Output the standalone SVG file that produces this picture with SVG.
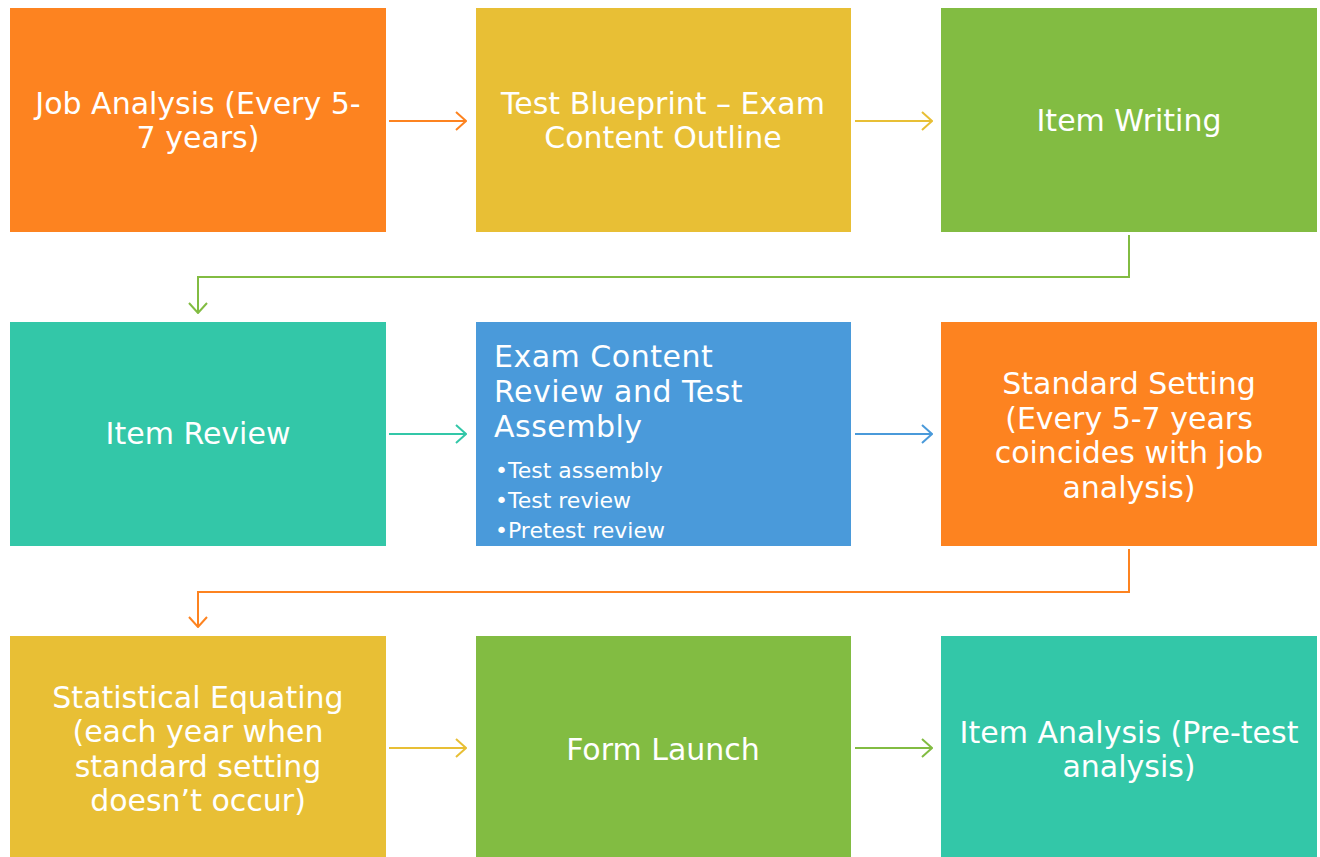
<svg xmlns="http://www.w3.org/2000/svg" width="1320" height="857" viewBox="0 0 1320 857">
<defs>
<style>
.t{font-family:"DejaVu Sans","Liberation Sans",sans-serif;font-size:30px;fill:#fff;text-anchor:middle}
.l{font-family:"DejaVu Sans","Liberation Sans",sans-serif;font-size:30px;letter-spacing:0.5px;fill:#fff}
.b{font-family:"DejaVu Sans","Liberation Sans",sans-serif;font-size:22px;fill:#fff}
.c{fill:none;stroke-width:2}
</style>
<marker id="mo" viewBox="0 0 12 20" refX="11" refY="10" markerWidth="12" markerHeight="20" markerUnits="userSpaceOnUse" orient="auto"><path d="M1 1 L11 10 L1 19" fill="none" stroke="#FD8320" stroke-width="2"/></marker>
<marker id="my" viewBox="0 0 12 20" refX="11" refY="10" markerWidth="12" markerHeight="20" markerUnits="userSpaceOnUse" orient="auto"><path d="M1 1 L11 10 L1 19" fill="none" stroke="#E8BF35" stroke-width="2"/></marker>
<marker id="mg" viewBox="0 0 12 20" refX="11" refY="10" markerWidth="12" markerHeight="20" markerUnits="userSpaceOnUse" orient="auto"><path d="M1 1 L11 10 L1 19" fill="none" stroke="#82BC42" stroke-width="2"/></marker>
<marker id="mt" viewBox="0 0 12 20" refX="11" refY="10" markerWidth="12" markerHeight="20" markerUnits="userSpaceOnUse" orient="auto"><path d="M1 1 L11 10 L1 19" fill="none" stroke="#33C7A8" stroke-width="2"/></marker>
<marker id="mb" viewBox="0 0 12 20" refX="11" refY="10" markerWidth="12" markerHeight="20" markerUnits="userSpaceOnUse" orient="auto"><path d="M1 1 L11 10 L1 19" fill="none" stroke="#4A9ADA" stroke-width="2"/></marker>
</defs>
<rect width="1320" height="857" fill="#fff"/>
<g id="n1"><rect x="10" y="8" width="376" height="224" fill="#FD8320"/><text class="t" x="198" y="114">Job Analysis (Every 5-</text><text class="t" x="198" y="148">7 years)</text></g>
<g id="n2"><rect x="476" y="8" width="375" height="224" fill="#E8BF35"/><text class="t" x="663" y="114">Test Blueprint – Exam</text><text class="t" x="663" y="148">Content Outline</text></g>
<g id="n3"><rect x="941" y="8" width="376" height="224" fill="#82BC42"/><text class="t" x="1129" y="131">Item Writing</text></g>
<g id="n4"><rect x="10" y="322" width="376" height="224" fill="#33C7A8"/><text class="t" x="198" y="444">Item Review</text></g>
<g id="n5"><rect x="476" y="322" width="375" height="224" fill="#4A9ADA"/><text class="l" x="494" y="367">Exam Content</text><text class="l" x="494" y="402">Review and Test</text><text class="l" x="494" y="437">Assembly</text><text class="b" x="495" y="478">•Test assembly</text><text class="b" x="495" y="508">•Test review</text><text class="b" x="495" y="538">•Pretest review</text></g>
<g id="n6"><rect x="941" y="322" width="376" height="224" fill="#FD8320"/><text class="t" x="1129" y="394">Standard Setting</text><text class="t" x="1129" y="429">(Every 5-7 years</text><text class="t" x="1129" y="463">coincides with job</text><text class="t" x="1129" y="498">analysis)</text></g>
<g id="n7"><rect x="10" y="636" width="376" height="221" fill="#E8BF35"/><text class="t" x="198" y="708">Statistical Equating</text><text class="t" x="198" y="742">(each year when</text><text class="t" x="198" y="777">standard setting</text><text class="t" x="198" y="811">doesn’t occur)</text></g>
<g id="n8"><rect x="476" y="636" width="375" height="221" fill="#82BC42"/><text class="t" x="663" y="760">Form Launch</text></g>
<g id="n9"><rect x="941" y="636" width="376" height="221" fill="#33C7A8"/><text class="t" x="1129" y="743">Item Analysis (Pre-test</text><text class="t" x="1129" y="777">analysis)</text></g>
<g id="connectors">
<path class="c" d="M389 121 H466" stroke="#FD8320" marker-end="url(#mo)"/>
<path class="c" d="M855 121 H932" stroke="#E8BF35" marker-end="url(#my)"/>
<path class="c" d="M1129 235 V277 H198 V313" stroke="#82BC42" marker-end="url(#mg)"/>
<path class="c" d="M389 434 H466" stroke="#33C7A8" marker-end="url(#mt)"/>
<path class="c" d="M855 434 H932" stroke="#4A9ADA" marker-end="url(#mb)"/>
<path class="c" d="M1129 549 V592 H198 V627" stroke="#FD8320" marker-end="url(#mo)"/>
<path class="c" d="M389 748 H466" stroke="#E8BF35" marker-end="url(#my)"/>
<path class="c" d="M855 748 H932" stroke="#82BC42" marker-end="url(#mg)"/>
</g>
</svg>
